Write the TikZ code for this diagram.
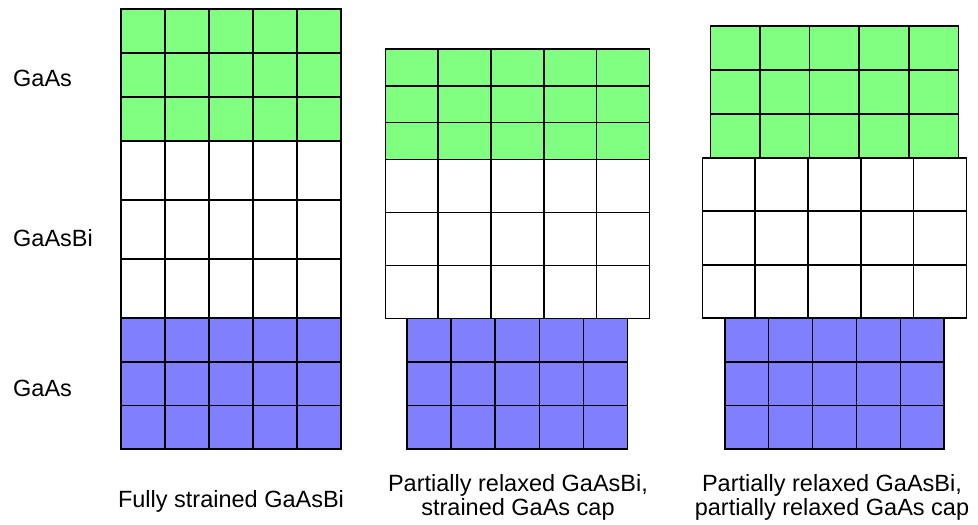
\documentclass[tikz,border=0pt]{standalone}
\usepackage{fontspec}
\setmainfont{Liberation Sans}
\usepackage{tikz}
\definecolor{capgreen}{RGB}{128,255,128}
\definecolor{subblue}{RGB}{128,128,255}
\tikzset{
  cell/.style={draw=black,line width=1.6pt,line join=miter},
  layerlabel/.style={anchor=base west,inner sep=0pt,font=\fontsize{23.5}{27}\selectfont},
  caption/.style={align=center,inner sep=0pt,font=\fontsize{23.5}{24.5}\selectfont}
}
% 5 x 3 cells: left, top, cell width, cell height, fill
\newcommand{\cellgrid}[5]{%
  \foreach \i in {0,...,4}
    \foreach \j in {0,1,2}
      \draw[cell,fill=#5] ({#1+\i*#3},{#2+\j*#4}) rectangle ++(#3,#4);
}

\begin{document}
\begin{tikzpicture}[x=1pt,y=-1pt]
  \useasboundingbox (0,0) rectangle (978,525);

  %% fully strained
  \cellgrid{121}{9}{44}{44}{capgreen}
  \cellgrid{121}{141}{44}{59}{white}
  \cellgrid{121}{318}{44}{43.7}{subblue}

  %% relaxed layer, strained cap
  \cellgrid{385.3}{49}{52.8}{36.8}{capgreen}
  \cellgrid{385.3}{159.3}{52.8}{53}{white}
  \cellgrid{407}{318.3}{44.1}{43.6}{subblue}

  %% relaxed layer, relaxed cap
  \cellgrid{710.3}{25.7}{49.6}{44}{capgreen}
  \cellgrid{702.3}{157.7}{52.8}{53.5}{white}
  \cellgrid{724.7}{318.3}{43.9}{43.6}{subblue}

  %% layer names
  \node[layerlabel] (lcap) at (13,86.3) {GaAs};
  \node[layerlabel] (lmid) at (13,246) {GaAsBi};
  \node[layerlabel] (lsub) at (13,396) {GaAs};

  %% captions
  \node[caption,anchor=base] (cfull) at (231,507.7) {Fully strained GaAsBi};
  \node[caption,anchor=north] (cpart) at (518,474) {Partially relaxed GaAsBi,\\strained GaAs cap};
  \node[caption,anchor=north] (crelax) at (832,474) {Partially relaxed GaAsBi,\\partially relaxed GaAs cap};
\end{tikzpicture}
\end{document}
